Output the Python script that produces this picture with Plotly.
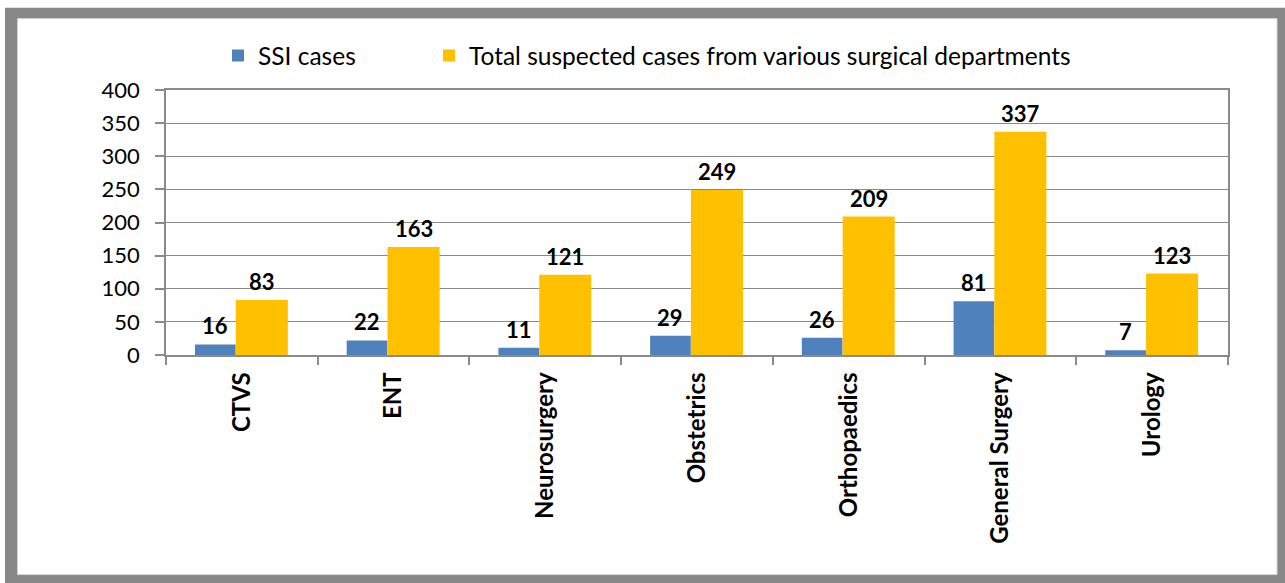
import plotly.graph_objects as go

categories = ["CTVS", "ENT", "Neurosurgery", "Obstetrics", "Orthopaedics", "General Surgery", "Urology"]
ssi_cases = [16, 22, 11, 29, 26, 81, 7]
total_cases = [83, 163, 121, 249, 209, 337, 123]
y_ticks = [0, 50, 100, 150, 200, 250, 300, 350, 400]

BLUE = "#4F81BD"
YELLOW = "#FFC000"
GRID = "#8A8A8A"
FONT = "Lato"

W, H = 1285, 583
L, R, T, B = 166, 57, 89.5, 228
pw, ph = W - L - R, H - T - B

def px_x(px):
    return (px - L) / pw

def px_y(py):
    return (H - B - py) / ph

SSI_OFF, SSI_W = -0.309, 0.268
TOT_OFF, TOT_W = -0.040, 0.343

fig = go.Figure()
fig.add_trace(go.Bar(
    x=categories, y=ssi_cases, name="SSI cases",
    marker=dict(color=BLUE, line=dict(width=0)),
    offset=SSI_OFF, width=SSI_W, legend="legend",
))
fig.add_trace(go.Bar(
    x=categories, y=total_cases,
    name="Total suspected cases from various surgical departments",
    marker=dict(color=YELLOW, line=dict(width=0)),
    offset=TOT_OFF, width=TOT_W, legend="legend2",
))

cat_px = pw / len(categories)
label_font = dict(family=FONT, size=22, color="black", weight="bold")
ann = []
for c, v in zip(categories, ssi_cases):
    ann.append(dict(x=c, y=v, xref="x", yref="y", text=str(v), showarrow=False,
                    xshift=(SSI_OFF + SSI_W / 2) * cat_px, yshift=3, yanchor="bottom",
                    font=label_font))
for c, v in zip(categories, total_cases):
    ann.append(dict(x=c, y=v, xref="x", yref="y", text=str(v), showarrow=False,
                    xshift=(TOT_OFF + TOT_W / 2) * cat_px, yshift=3, yanchor="bottom",
                    font=label_font))

shapes = [
    dict(type="rect", xref="paper", yref="paper", layer="below",
         x0=px_x(5), x1=px_x(1290), y0=px_y(590), y1=px_y(7),
         fillcolor="#888888", line=dict(width=0)),
    dict(type="rect", xref="paper", yref="paper", layer="below",
         x0=px_x(17.5), x1=px_x(1277), y0=px_y(575), y1=px_y(18),
         fillcolor="white", line=dict(color="#D6D6D6", width=1)),
]

legend_common = dict(orientation="h", xanchor="left", yanchor="middle",
                     font=dict(family=FONT, size=24.5, color="black"),
                     bgcolor="rgba(0,0,0,0)", itemclick=False, itemdoubleclick=False)

fig.update_layout(
    width=W, height=H,
    margin=dict(l=L, r=R, t=T, b=B, pad=0),
    paper_bgcolor="white", plot_bgcolor="rgba(0,0,0,0)",
    font=dict(family=FONT, size=22, color="black"),
    barmode="overlay",
    showlegend=True,
    legend=dict(x=px_x(218), y=px_y(55), **legend_common),
    legend2=dict(x=px_x(429), y=px_y(55), **legend_common),
    annotations=ann,
    shapes=shapes,
    xaxis=dict(
        type="category", categoryorder="array", categoryarray=categories,
        showgrid=False, showline=True, linecolor=GRID, linewidth=1.5, mirror=True,
        ticks="outside", tickson="boundaries", ticklen=8, tickcolor=GRID, tickwidth=1.5,
        tickangle=-90, ticklabelstandoff=6,
        tickfont=dict(family=FONT, size=24, color="black", weight="bold"),
        range=[-0.5, len(categories) - 0.5],
    ),
    yaxis=dict(
        range=[0, 400], tickvals=y_ticks, ticktext=[str(t) for t in y_ticks],
        showgrid=True, gridcolor=GRID, gridwidth=1.3,
        showline=True, linecolor=GRID, linewidth=1.5, mirror=True,
        ticks="outside", ticklen=9, tickcolor=GRID, tickwidth=1.5,
        ticklabelstandoff=11, zeroline=False,
        tickfont=dict(family=FONT, size=22, color="black"),
    ),
)

fig.write_html("out.html", config={"displayModeBar": False},
               post_script="document.body.style.margin='0';")
